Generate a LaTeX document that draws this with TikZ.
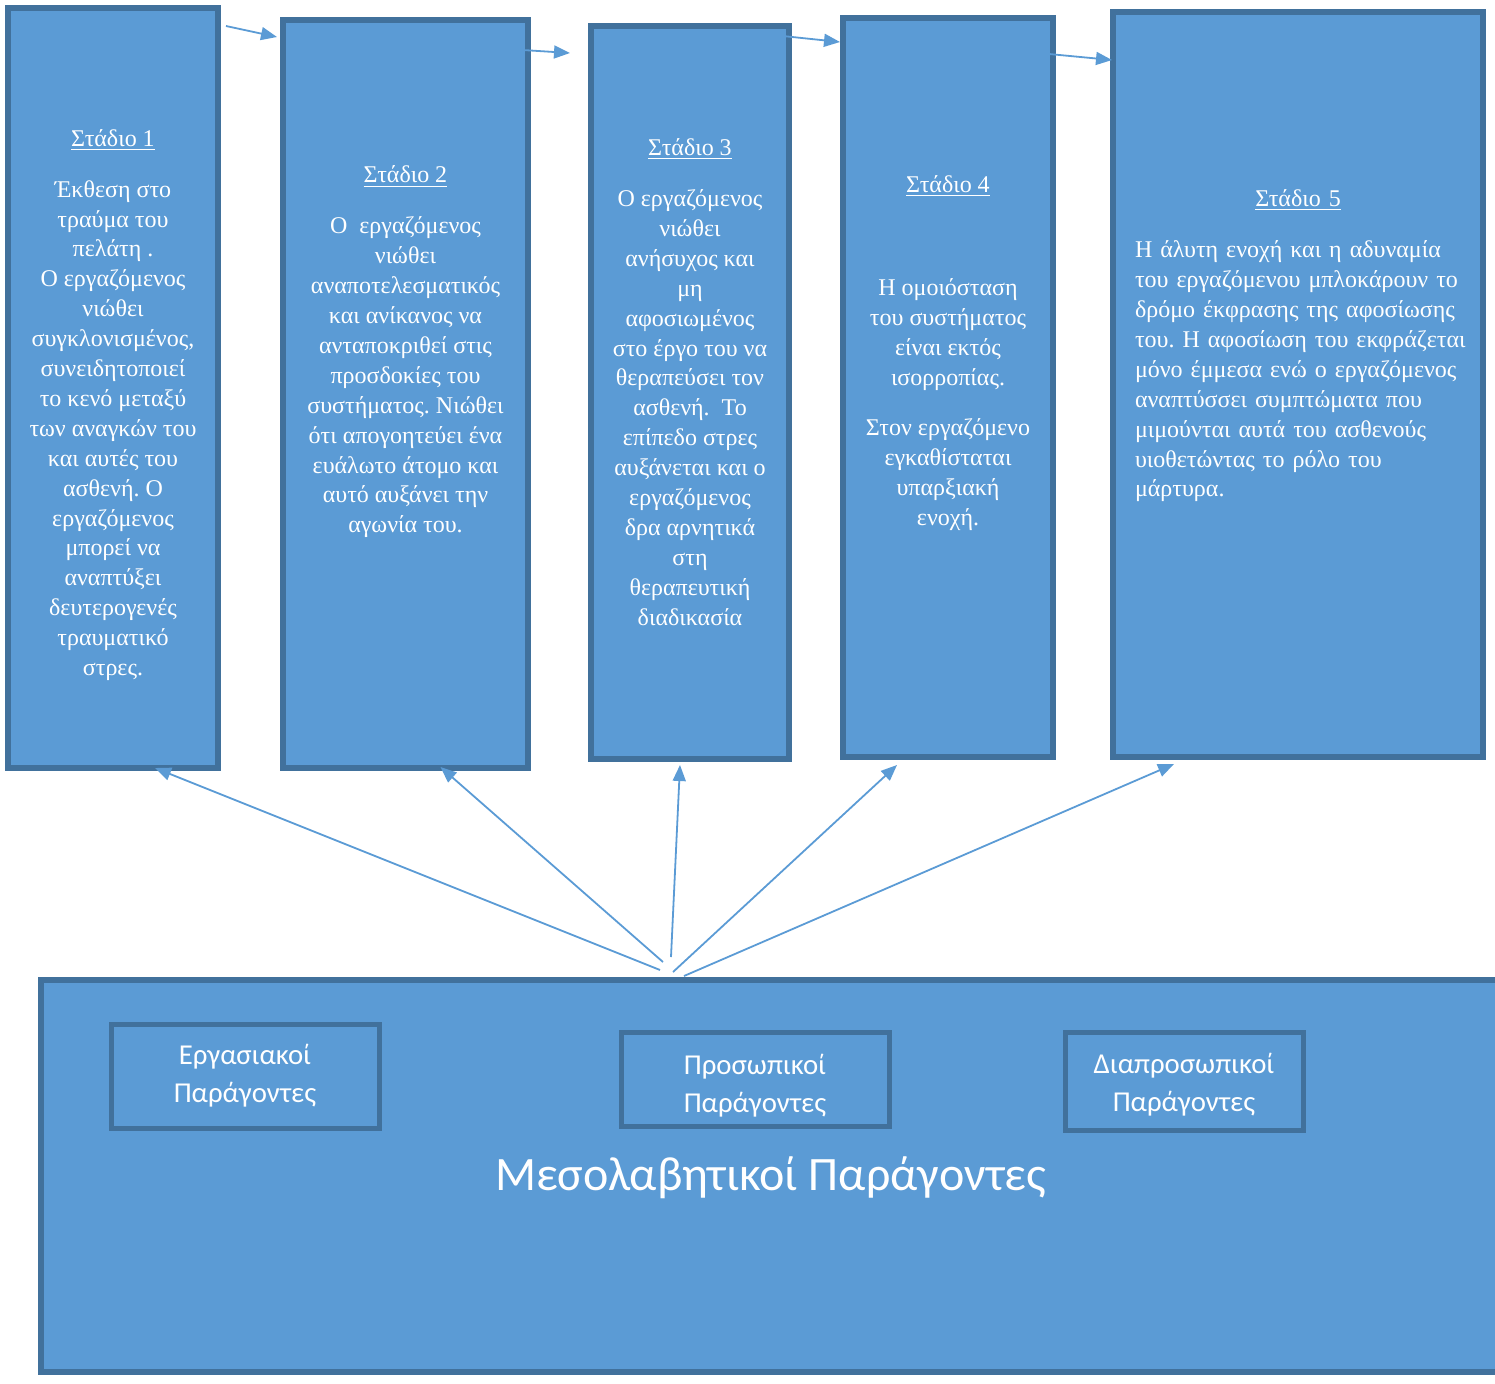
\documentclass[tikz,border=0pt]{standalone}
\usepackage{fontspec}
\setmainfont{Liberation Serif}
\newfontfamily\calibri{Carlito}
\usepackage{tikz}
\definecolor{boxblue}{HTML}{5B9BD5}
\definecolor{boxedge}{HTML}{41719C}
\usetikzlibrary{arrows.meta}
\tikzstyle{sblock} = [rectangle, draw=boxedge, fill=boxblue, line width=3pt, inner sep=0pt]
\tikzstyle{fblock} = [rectangle, draw=boxedge, fill=boxblue, line width=2.5pt, inner sep=0pt,
text=white, align=center, font=\calibri\fontsize{14.4}{19}\selectfont]
\tikzstyle{stext} = [text=white, align=center, inner sep=0pt, font=\fontsize{12}{14.95}\selectfont]
\tikzstyle{arrow} = [line width=0.9pt, draw=boxblue, -{Triangle[length=8pt,width=6.5pt,fill=boxblue]}]
\frenchspacing

\begin{document}
\begin{tikzpicture}[x=0.5pt, y=-0.5pt]
	\useasboundingbox (0,0) rectangle (1495,1383);
	% the five stages
	\node (Stadio1) [sblock, minimum width=105pt, minimum height=380pt] at (113,388) {};
	\node (Stadio2) [sblock, minimum width=122.5pt, minimum height=374pt] at (405.5,394) {};
	\node (Stadio3) [sblock, minimum width=99pt, minimum height=366.5pt] at (690,392.5) {};
	\node (Stadio4) [sblock, minimum width=105pt, minimum height=369.5pt] at (948,387.5) {};
	\node (Stadio5) [sblock, minimum width=185pt, minimum height=372.5pt] at (1298,384.5) {};

	\node (Text1) [stext] at (113,405) {\underline{Στάδιο 1}\\[10.5pt]
		Έκθεση στο\\ τραύμα του\\ πελάτη .\\ Ο εργαζόμενος\\ νιώθει\\ συγκλονισμένος,\\
		συνειδητοποιεί\\ το κενό μεταξύ\\ των αναγκών του\\ και αυτές του\\ ασθενή. Ο\\
		εργαζόμενος\\ μπορεί να\\ αναπτύξει\\ δευτερογενές\\ τραυματικό\\ στρες.};
	\node (Text2) [stext] at (405.5,352) {\underline{Στάδιο 2}\\[10.5pt]
		Ο\ \ εργαζόμενος\\ νιώθει\\ αναποτελεσματικός\\ και ανίκανος να\\ ανταποκριθεί στις\\
		προσδοκίες του\\ συστήματος. Νιώθει\\ ότι απογοητεύει ένα\\ ευάλωτο άτομο και\\
		αυτό αυξάνει την\\ αγωνία του.};
	\node (Text3) [stext] at (690,382) {\underline{Στάδιο 3}\\[10.5pt]
		Ο εργαζόμενος\\ νιώθει\\ ανήσυχος και\\ μη\\ αφοσιωμένος\\ στο έργο του να\\
		θεραπεύσει τον\\ ασθενή.\ \ Το\\ επίπεδο στρες\\ αυξάνεται και ο\\ εργαζόμενος\\
		δρα αρνητικά\\ στη\\ θεραπευτική\\ διαδικασία};
	\node (Text4) [stext] at (948,353) {\underline{Στάδιο 4}\\[36.5pt]
		Η ομοιόσταση\\ του συστήματος\\ είναι εκτός\\ ισορροπίας.\\[10pt]
		Στον εργαζόμενο\\ εγκαθίσταται\\ υπαρξιακή\\ ενοχή.};
	\node (Text5) [stext, align=left, text width=180pt] at (1315,346) {\makebox[\linewidth]{\hspace*{-17pt}\underline{Στάδιο 5}}\\[10.5pt]
		Η άλυτη ενοχή και η αδυναμία\\ του εργαζόμενου μπλοκάρουν το\\ δρόμο έκφρασης της αφοσίωσης\\
		του. Η αφοσίωση του εκφράζεται\\ μόνο έμμεσα ενώ ο εργαζόμενος\\ αναπτύσσει συμπτώματα που\\
		μιμούνται αυτά του ασθενούς\\ υιοθετώντας το ρόλο του\\ μάρτυρα.};

	% mediating factors
	\node (Meso) [sblock, minimum width=743pt, minimum height=196pt] at (784,1176) {};
	\node (MesoLabel) [text=white, font=\calibri\fontsize{24}{28}\selectfont] at (771,1178) {Μεσολαβητικοί Παράγοντες};
	\node (Ergas) [fblock, minimum width=134pt, minimum height=52pt] at (245,1076) {Εργασιακοί\\ Παράγοντες};
	\node (Prosop) [fblock, minimum width=134pt, minimum height=47pt] at (755,1079) {\rule{0pt}{17pt}Προσωπικοί\\ Παράγοντες};
	\node (Diapros) [fblock, minimum width=119pt, minimum height=49pt] at (1184,1081) {\rule{0pt}{14pt}Διαπροσωπικοί\\ Παράγοντες};

	\draw [arrow] ([shift={(5,21)}]Stadio1.north east) -- ([shift={(-3,20)}]Stadio2.north west);
	\draw [arrow] ([shift={(6.5,26)}]Stadio2.north) -- ([shift={(-18,30)}]Stadio3.north west);
	\draw [arrow] ([shift={(45,8)}]Stadio3.north) -- ([shift={(0,27)}]Stadio4.north west);
	\draw [arrow] ([shift={(59,35)}]Stadio4.north) -- ([shift={(2,51)}]Stadio5.north west);

	\draw [arrow] ([shift={(622,-7)}]Meso.north west) -- ([shift={(42,-3)}]Stadio1.south);
	\draw [arrow] ([shift={(625,-15)}]Meso.north west) -- ([shift={(35,-4)}]Stadio2.south);
	\draw [arrow] ([shift={(633,-20)}]Meso.north west) -- ([shift={(-10,3)}]Stadio3.south);
	\draw [arrow] ([shift={(635,-5)}]Meso.north west) -- ([shift={(-51,5)}]Stadio4.south);
	\draw [arrow] ([shift={(646,-1)}]Meso.north west) -- ([shift={(-124,4)}]Stadio5.south);
\end{tikzpicture}
\end{document}
